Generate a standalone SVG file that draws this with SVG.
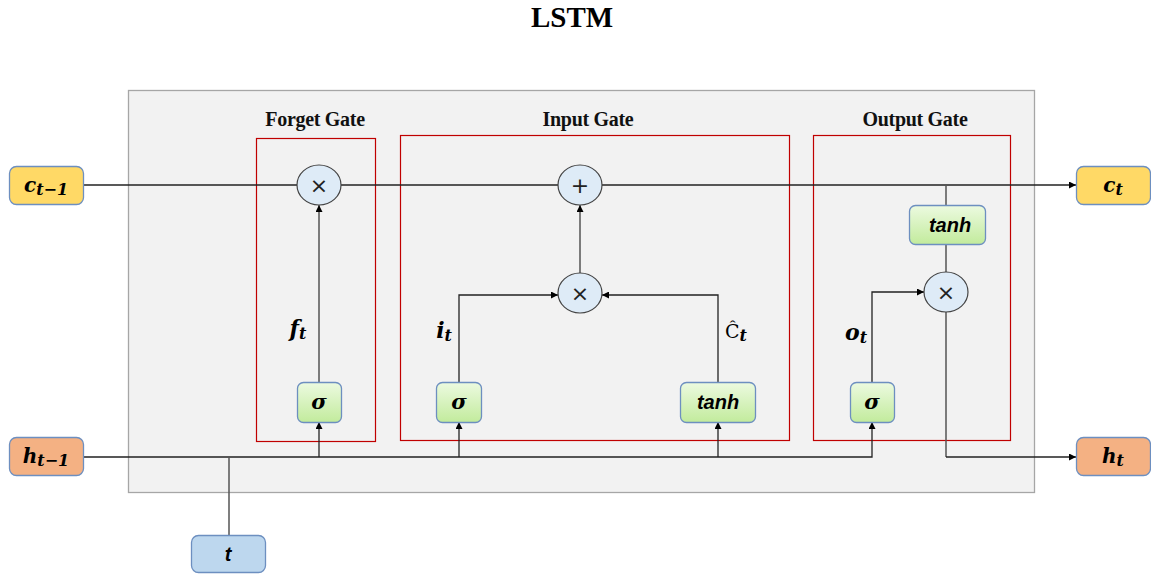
<svg xmlns="http://www.w3.org/2000/svg" width="1151" height="575" viewBox="0 0 1151 575">
<defs>
<linearGradient id="g" x1="0" y1="0" x2="0" y2="1"><stop offset="0" stop-color="#ecfae0"/><stop offset="1" stop-color="#c2eb9c"/></linearGradient>
<marker id="a" viewBox="0 0 10 10" refX="10" refY="5" markerWidth="7" markerHeight="7" orient="auto" markerUnits="userSpaceOnUse"><path d="M0,0 L10,5 L0,10 z" fill="#000"/></marker>
<style>
.ln{fill:none;stroke:#222;stroke-width:1.3}
.gl{fill:none;stroke:#555;stroke-width:1.5}
.gate{fill:none;stroke:#c00000;stroke-width:1.2}
.op{fill:#deebf7;stroke:#444;stroke-width:1.2}
.act{fill:url(#g);stroke:#6d8fc0;stroke-width:1.3}
.io{stroke:#6d8fc0;stroke-width:1.3}
.ttl{font-family:"Liberation Serif",serif;font-weight:bold;font-size:20px;fill:#111;text-anchor:middle;letter-spacing:-0.3px}
.m{font-family:"DejaVu Serif","Liberation Serif",serif;font-weight:bold;font-style:italic;fill:#000;text-anchor:middle}
.sym{font-family:"DejaVu Sans",sans-serif;font-size:22px;fill:#222;text-anchor:middle}
.tn{font-family:"Liberation Sans",sans-serif;font-weight:bold;font-style:italic;font-size:20px;text-anchor:middle;fill:#000}
</style>
</defs>
<rect width="1151" height="575" fill="#fff"/>
<text x="572" y="27" font-family="Liberation Serif,serif" font-weight="bold" font-size="29" text-anchor="middle">LSTM</text>
<rect x="128.5" y="90.5" width="906" height="402" fill="#f2f2f2" stroke="#a6a6a6" stroke-width="1.3"/>
<g id="gates">
<rect class="gate" x="256.5" y="138.5" width="119" height="303"/>
<text class="ttl" x="315" y="126">Forget Gate</text>
<rect class="gate" x="400.5" y="135.5" width="389" height="305"/>
<text class="ttl" x="588" y="126">Input Gate</text>
<rect class="gate" x="813.5" y="135.5" width="197" height="305"/>
<text class="ttl" x="915" y="126">Output Gate</text>
</g>
<g id="connectors">
<path class="ln" d="M83,185 H297"/>
<path class="ln" d="M341,185 H558"/>
<path class="ln" d="M602,185 H1076" marker-end="url(#a)"/>
<path class="ln" d="M83,457 H872 V422" marker-end="url(#a)"/>
<path class="ln" d="M319,457 V422" marker-end="url(#a)"/>
<path class="ln" d="M459,457 V422" marker-end="url(#a)"/>
<path class="ln" d="M718,457 V422" marker-end="url(#a)"/>
<path class="gl" d="M229,457 V535"/>
<path class="gl" d="M319,382 V205" marker-end="url(#a)"/>
<path class="ln" d="M459,382 V295 H558" marker-end="url(#a)"/>
<path class="ln" d="M718,382 V295 H602" marker-end="url(#a)"/>
<path class="gl" d="M580,273 V205" marker-end="url(#a)"/>
<path class="ln" d="M872,382 V292 H924" marker-end="url(#a)"/>
<path class="gl" d="M946,185 V205 M946,244 V272"/>
<path class="gl" d="M946,312 V457"/>
<path class="ln" d="M946,457 H1076" marker-end="url(#a)"/>
</g>
<g id="c_prev"><rect class="io" x="9.5" y="166.5" width="74" height="38" rx="7" fill="#ffd966"/><text class="m" x="46" y="192" font-size="20">c<tspan font-size="16" dy="3">t−1</tspan></text></g>
<g id="h_prev"><rect class="io" x="9.5" y="437.5" width="74" height="38" rx="7" fill="#f4b183"/><text class="m" x="46" y="463" font-size="20">h<tspan font-size="16" dy="3">t−1</tspan></text></g>
<g id="c_t"><rect class="io" x="1076.5" y="166.5" width="74" height="38" rx="7" fill="#ffd966"/><text class="m" x="1113" y="192" font-size="20">c<tspan font-size="16" dy="3">t</tspan></text></g>
<g id="h_t"><rect class="io" x="1076.5" y="437.5" width="74" height="38" rx="7" fill="#f4b183"/><text class="m" x="1113" y="463" font-size="20">h<tspan font-size="16" dy="3">t</tspan></text></g>
<g id="t_in"><rect class="io" x="191.5" y="535.5" width="74" height="37" rx="7" fill="#bdd7ee"/><text class="tn" x="228" y="561">t</text></g>
<g id="forget_mul"><ellipse class="op" cx="319" cy="185" rx="22" ry="20"/><text class="sym" x="319" y="193">×</text></g>
<g id="add"><ellipse class="op" cx="580" cy="185" rx="22" ry="20"/><text class="sym" x="580" y="193">+</text></g>
<g id="input_mul"><ellipse class="op" cx="580" cy="293" rx="22" ry="20"/><text class="sym" x="580" y="301">×</text></g>
<g id="output_mul"><ellipse class="op" cx="946" cy="292" rx="22" ry="20"/><text class="sym" x="946" y="300">×</text></g>
<g id="forget_sigma"><rect class="act" x="297.5" y="382.5" width="44" height="40" rx="6"/><text class="m" x="319" y="409" font-size="21">σ</text></g>
<g id="input_sigma"><rect class="act" x="436.5" y="382.5" width="45" height="40" rx="6"/><text class="m" x="459" y="409" font-size="21">σ</text></g>
<g id="input_tanh"><rect class="act" x="680.5" y="382.5" width="75" height="40" rx="6"/><text class="tn" x="718" y="409">tanh</text></g>
<g id="output_sigma"><rect class="act" x="850.5" y="382.5" width="44" height="40" rx="6"/><text class="m" x="872" y="409" font-size="21">σ</text></g>
<g id="output_tanh"><rect class="act" x="909.5" y="205.5" width="76" height="39" rx="6"/><text class="tn" x="950" y="232">tanh</text></g>
<g id="labels">
<text class="m" x="298" y="336" font-size="22">f<tspan font-size="16" dy="3">t</tspan></text>
<text class="m" x="444" y="338" font-size="22">i<tspan font-size="16" dy="3">t</tspan></text>
<text x="736" y="338" font-family="DejaVu Serif,serif" font-size="19" text-anchor="middle">Ĉ<tspan font-size="16" dy="3" font-style="italic" font-weight="bold">t</tspan></text>
<text class="m" x="856" y="340" font-size="22">o<tspan font-size="16" dy="3">t</tspan></text>
</g>
</svg>
